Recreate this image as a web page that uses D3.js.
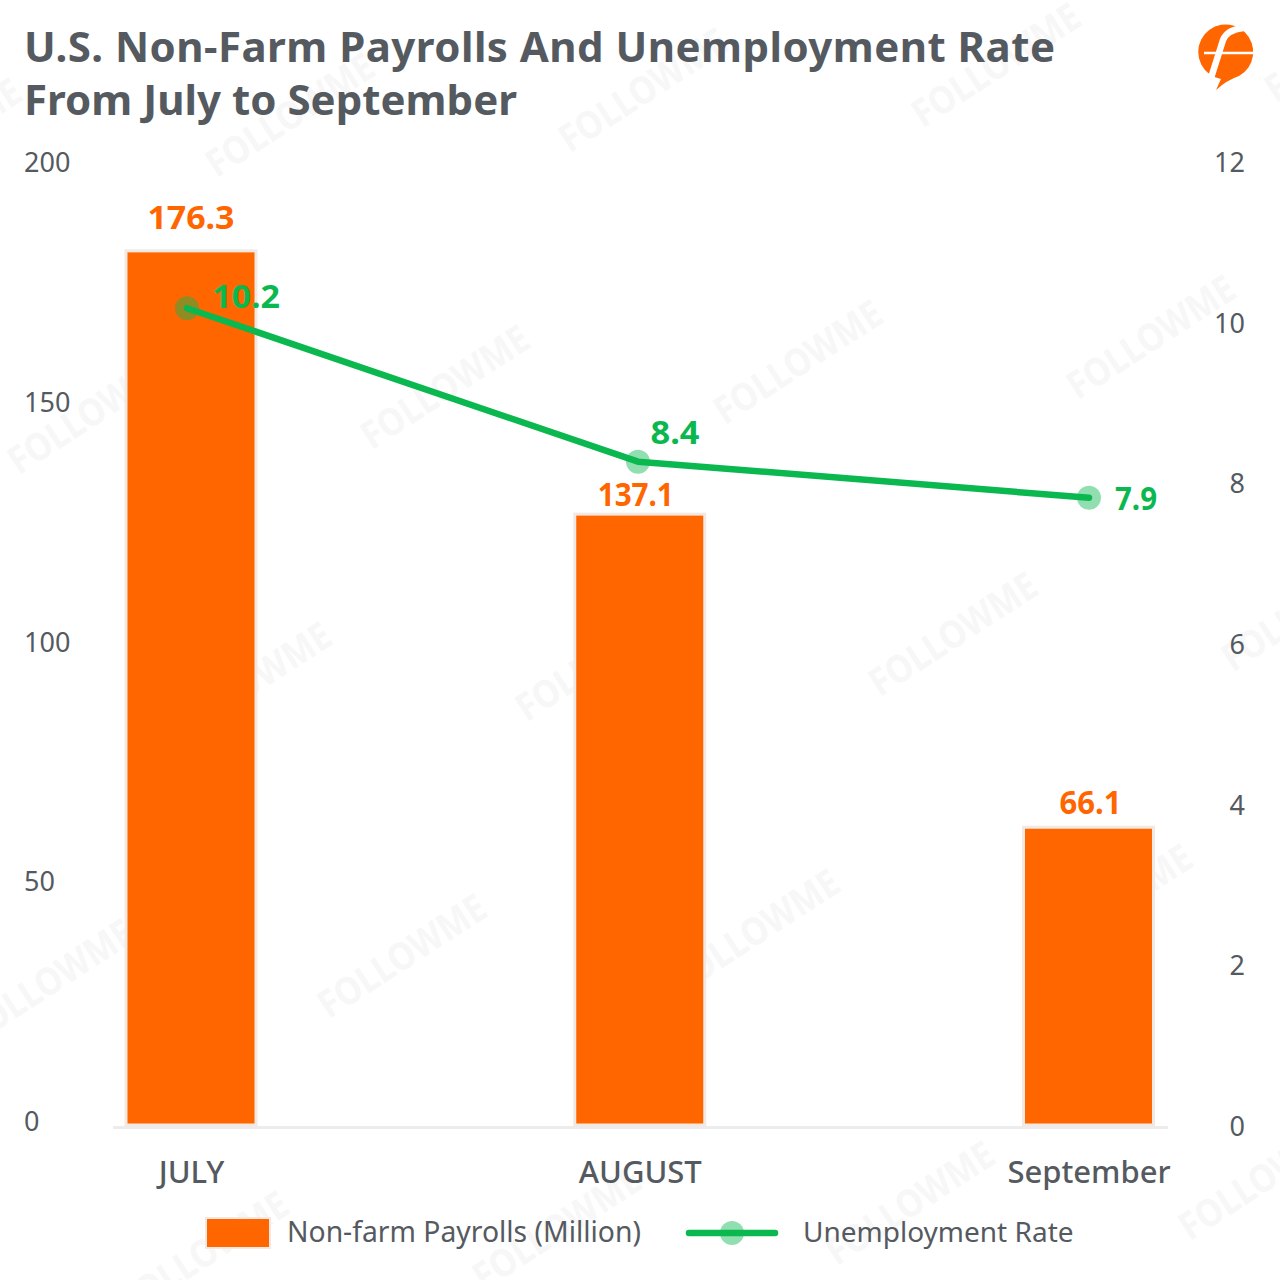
<!DOCTYPE html>
<html>
<head>
<meta charset="utf-8">
<script src="https://cdn.jsdelivr.net/npm/d3@7"></script>
<style>
html, body { margin: 0; padding: 0; background: #fff; }
svg { display: block; }
text { font-family: "Noto Sans", sans-serif; }
</style>
</head>
<body>
<svg width="1280" height="1280"></svg>
<script>
var months = ["JULY", "AUGUST", "September"];
// bar heights as drawn against the left axis, they differ from the printed labels
var payrollValues = [182.3, 127.4, 62.1];
var payrollLabels = ["176.3", "137.1", "66.1"];
var rateValues = [10.18, 8.27, 7.82];
var rateLabels = ["10.2", "8.4", "7.9"];
var leftTicks = [0, 50, 100, 150, 200];
var rightTicks = [0, 2, 4, 6, 8, 10, 12];
var titleLines = ["U.S. Non-Farm Payrolls And Unemployment Rate", "From July to September"];

var orange = "#ff6600", green = "#0bb84f", grey = "#555a60";

var svg = d3.select("svg");

// watermark lattice
var wm = svg.append("g");
for (var r = -1; r < 6; r++) {
  for (var c = -2; c < 5; c++) {
    var wx = 290 + c * 353 + r * 155;
    var wy = 115 - c * 25 + r * 272;
    if (wx < -120 || wx > 1400 || wy < -60 || wy > 1340) continue;
    wm.append("text")
      .attr("transform", "translate(" + wx + "," + wy + ") rotate(-33)")
      .attr("text-anchor", "middle")
      .attr("dy", "0.35em")
      .attr("font-size", 38)
      .attr("font-weight", 700)
      .attr("fill", "#f7f7f7")
      .attr("textLength", 192)
      .attr("lengthAdjust", "spacingAndGlyphs")
      .text("FOLLOWME");
  }
}

var x = d3.scalePoint().domain(months).range([191, 1088.5]);
var xLine = d3.scalePoint().domain(months).range([187, 1089]);
var yLeft = d3.scaleLinear().domain([0, 200]).range([1125, 166]);
var yRight = d3.scaleLinear().domain([0, 12]).range([1126, 162]);

// title
var titleWidths = [1031, 493];
svg.append("g").selectAll("text")
  .data(titleLines)
  .enter().append("text")
    .attr("x", 24)
    .attr("y", function(d, i) { return 62 + i * 53; })
    .attr("font-size", 42)
    .attr("font-weight", 700)
    .attr("fill", grey)
    .attr("textLength", function(d, i) { return titleWidths[i]; })
    .text(function(d) { return d; });

// logo
var logo = svg.append("g").attr("transform", "translate(-1,0)");
logo.append("path")
  .attr("d", "M1217 90 L1222 79 A27.5 27.5 0 1 1 1240 76 Q1228 80 1217 90 Z")
  .attr("fill", orange);
logo.append("path")
  .attr("d", "M1212 78 L1224 40 Q1228 30 1244 28")
  .attr("fill", "none").attr("stroke", "#fff").attr("stroke-width", 6.5);
logo.append("path")
  .attr("d", "M1205 53 H1256")
  .attr("fill", "none").attr("stroke", "#fff").attr("stroke-width", 2.5);

// axes
var axisLeft = svg.append("g")
  .attr("transform", "translate(24,-3)")
  .call(d3.axisLeft(yLeft).tickValues(leftTicks).tickSize(0).tickPadding(0));
axisLeft.select(".domain").remove();
axisLeft.selectAll("text")
  .attr("text-anchor", "start")
  .attr("font-size", 27)
  .attr("fill", grey)
  .style("font-family", '"Noto Sans", sans-serif');

var axisRight = svg.append("g")
  .attr("transform", "translate(1245,1)")
  .call(d3.axisRight(yRight).tickValues(rightTicks).tickSize(0).tickPadding(0));
axisRight.select(".domain").remove();
axisRight.selectAll("text")
  .attr("text-anchor", "end")
  .attr("font-size", 27)
  .attr("fill", grey)
  .style("font-family", '"Noto Sans", sans-serif');

// baseline
svg.append("line")
  .attr("x1", 113).attr("x2", 1168)
  .attr("y1", 1127.5).attr("y2", 1127.5)
  .attr("stroke", "#ececec").attr("stroke-width", 3);

var axisBottom = svg.append("g")
  .attr("transform", "translate(0,1172)")
  .call(d3.axisBottom(x).tickSize(0).tickPadding(0));
axisBottom.select(".domain").remove();
axisBottom.selectAll("text")
  .attr("y", 0)
  .attr("dy", "0.35em")
  .attr("font-size", 31)
  .attr("font-weight", 500)
  .attr("fill", grey)
  .style("font-family", '"Noto Sans", sans-serif');

// bars
var barW = 130;
svg.append("g").selectAll("rect")
  .data(payrollValues)
  .enter().append("rect")
    .attr("x", function(d, i) { return x(months[i]) - barW / 2; })
    .attr("y", function(d) { return yLeft(d); })
    .attr("width", barW)
    .attr("height", function(d) { return yLeft(0) - yLeft(d); })
    .attr("fill", orange)
    .attr("stroke", "#f3e9e3")
    .attr("stroke-width", 3);

var barLabelDx = [0, -4, 2], barLabelDy = [-33, -19, -24], barLabelW = [87, 76, 62];
svg.append("g").selectAll("text")
  .data(payrollLabels)
  .enter().append("text")
    .attr("x", function(d, i) { return x(months[i]) + barLabelDx[i]; })
    .attr("y", function(d, i) { return yLeft(payrollValues[i]) + barLabelDy[i]; })
    .attr("text-anchor", "middle")
    .attr("dy", "0.35em")
    .attr("font-size", 32)
    .attr("font-weight", 700)
    .attr("fill", orange)
    .attr("textLength", function(d, i) { return barLabelW[i]; })
    .attr("lengthAdjust", "spacingAndGlyphs")
    .text(function(d) { return d; });

// line
var line = d3.line()
  .x(function(d, i) { return xLine(months[i]); })
  .y(function(d) { return yRight(d); });

svg.append("g").selectAll("circle")
  .data(rateValues)
  .enter().append("circle")
    .attr("cx", function(d, i) { return xLine(months[i]); })
    .attr("cy", function(d) { return yRight(d); })
    .attr("r", 12)
    .attr("fill", green)
    .attr("fill-opacity", 0.45);

svg.append("path")
  .attr("d", line(rateValues))
  .attr("fill", "none")
  .attr("stroke", green)
  .attr("stroke-width", 6.5)
  .attr("stroke-linecap", "round")
  .attr("stroke-linejoin", "round");

var rateLabelDx = [59, 37, 47], rateLabelDy = [-11, -29, 1], rateLabelW = [68, 49, 42];
svg.append("g").selectAll("text")
  .data(rateLabels)
  .enter().append("text")
    .attr("x", function(d, i) { return xLine(months[i]) + rateLabelDx[i]; })
    .attr("y", function(d, i) { return yRight(rateValues[i]) + rateLabelDy[i]; })
    .attr("text-anchor", "middle")
    .attr("dy", "0.35em")
    .attr("font-size", 32)
    .attr("font-weight", 700)
    .attr("fill", green)
    .attr("textLength", function(d, i) { return rateLabelW[i]; })
    .attr("lengthAdjust", "spacingAndGlyphs")
    .text(function(d) { return d; });

// legend
var legend = svg.append("g");
legend.append("rect")
  .attr("x", 206).attr("y", 1218).attr("width", 64).attr("height", 30)
  .attr("fill", orange).attr("stroke", "#f3e9e3").attr("stroke-width", 2);
legend.append("text")
  .attr("x", 287).attr("y", 1232).attr("dy", "0.35em")
  .attr("font-size", 28.3).attr("fill", grey)
  .text("Non-farm Payrolls (Million)");
legend.append("circle")
  .attr("cx", 732).attr("cy", 1233).attr("r", 12)
  .attr("fill", green).attr("fill-opacity", 0.45);
legend.append("line")
  .attr("x1", 689).attr("x2", 775).attr("y1", 1233).attr("y2", 1233)
  .attr("stroke", green).attr("stroke-width", 6.5).attr("stroke-linecap", "round");
legend.append("text")
  .attr("x", 803).attr("y", 1232).attr("dy", "0.35em")
  .attr("font-size", 28).attr("fill", grey)
  .text("Unemployment Rate");
</script>
</body>
</html>
